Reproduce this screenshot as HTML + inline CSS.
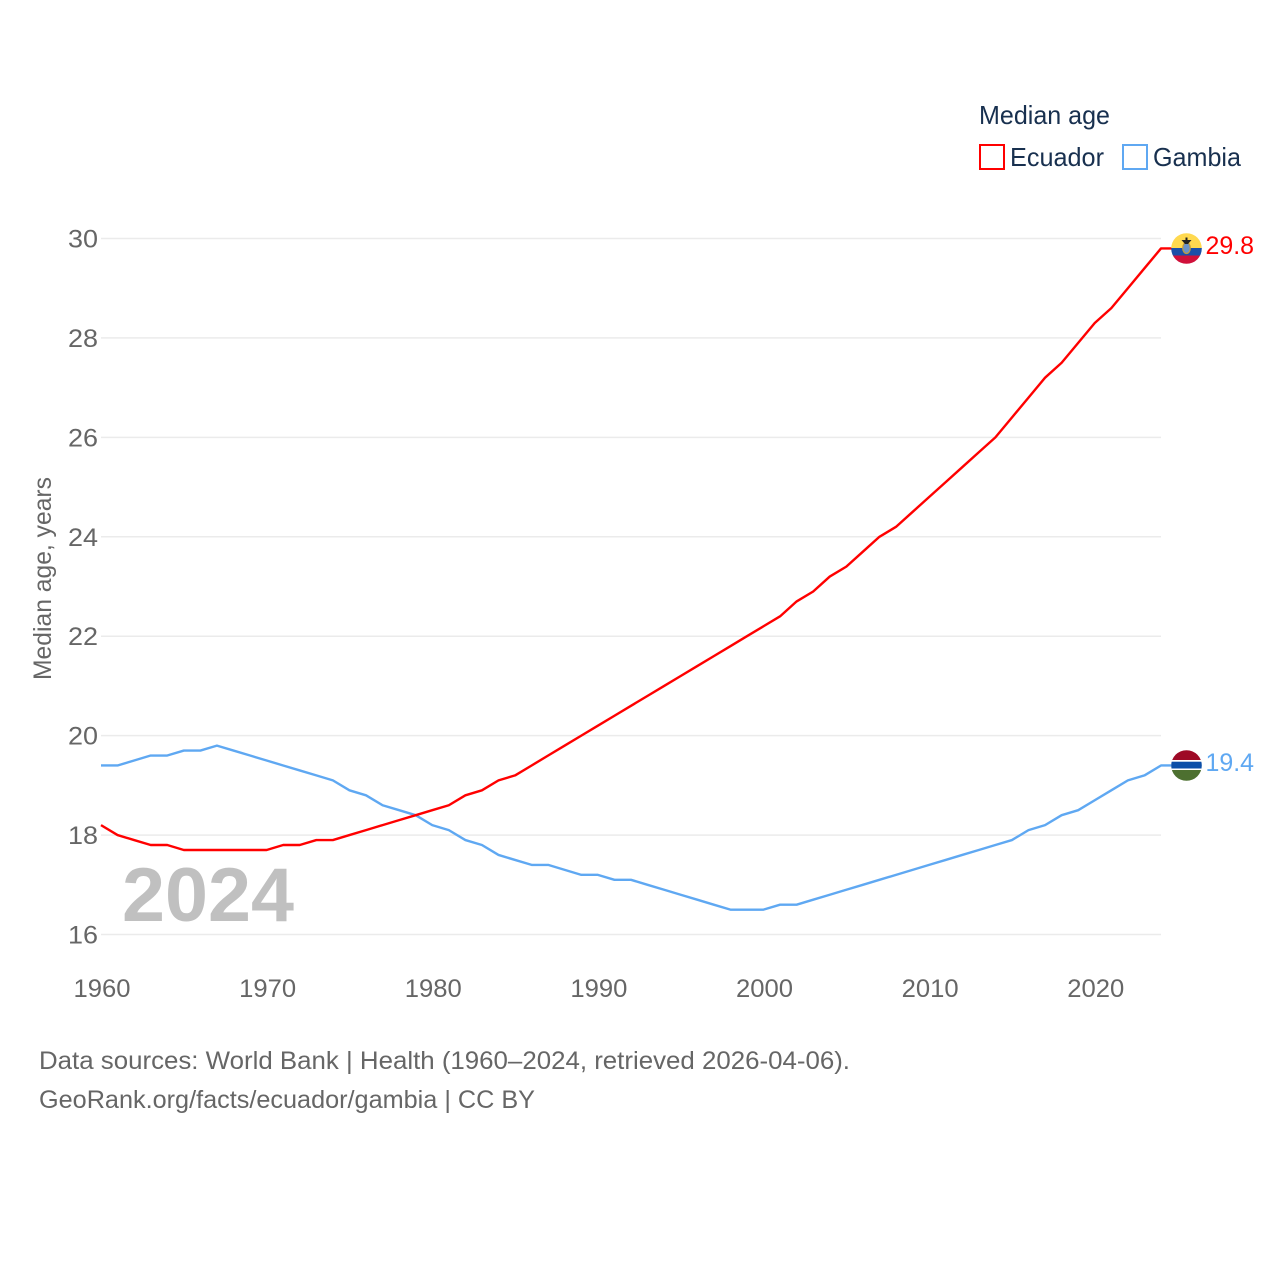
<!DOCTYPE html>
<html lang="en">
<head>
<meta charset="utf-8">
<title>Median age: Ecuador vs Gambia</title>
<style>
html,body{margin:0;padding:0;background:#fff;}
svg{display:block;font-family:"Liberation Sans",sans-serif;}
</style>
</head>
<body>
<svg id="chart" xmlns="http://www.w3.org/2000/svg" width="1280" height="1280" viewBox="0 0 1280 1280">
  <defs>
    <clipPath id="clip-ec"><circle cx="1186.500" cy="248.500" r="15.300"/></clipPath>
    <clipPath id="clip-gm"><circle cx="1186.500" cy="765.500" r="15.300"/></clipPath>
  </defs>
  <rect width="1280" height="1280" fill="#fff"/>

  <g id="grid"></g>
  <g id="yticks"></g>
  <g id="xticks"></g>

  <text transform="translate(51,680) rotate(-90)" font-size="25" fill="#666666" textLength="203" lengthAdjust="spacingAndGlyphs">Median age, years</text>

  <text x="122" y="921" font-size="76" font-weight="bold" fill="#c0c0c0" textLength="172" lengthAdjust="spacingAndGlyphs">2024</text>

  <g id="series"></g>

  <g clip-path="url(#clip-ec)">
    <rect x="1171" y="233" width="31" height="15" fill="#ffd94f"/>
    <rect x="1171" y="248" width="31" height="7.500" fill="#1a4fa8"/>
    <rect x="1171" y="255.500" width="31" height="9" fill="#d0103a"/>
    <ellipse cx="1186.500" cy="248" rx="3.800" ry="5.500" fill="#6a93c9" stroke="#c49a3a" stroke-width="1.200"/>
    <path d="M1181.500 240 L1191.500 240 L1188 244 L1185 244 Z" fill="#222"/>
    <rect x="1185.500" y="237.500" width="2" height="3" fill="#222"/>
  </g>
  <g clip-path="url(#clip-gm)">
    <rect x="1171" y="750" width="31" height="10" fill="#9e0a26"/>
    <rect x="1171" y="760" width="31" height="10.500" fill="#fff"/>
    <rect x="1171" y="761.700" width="31" height="6.800" fill="#0b4ea8"/>
    <rect x="1171" y="770" width="31" height="11" fill="#4d7030"/>
  </g>

  <text x="1205.500" y="254" font-size="25" fill="#ff0000" textLength="48.500" lengthAdjust="spacingAndGlyphs">29.8</text>
  <text x="1205.500" y="771" font-size="25" fill="#5fa8f2" textLength="48.500" lengthAdjust="spacingAndGlyphs">19.4</text>

  <g>
    <text x="979" y="124" font-size="26" fill="#18304f" textLength="131" lengthAdjust="spacingAndGlyphs">Median age</text>
    <g>
      <rect x="980" y="145" width="24" height="24" fill="#fff" stroke="#ff0000" stroke-width="2"/>
      <text x="1010" y="166" font-size="26" fill="#18304f" textLength="94" lengthAdjust="spacingAndGlyphs">Ecuador</text>
    </g>
    <g>
      <rect x="1123" y="145" width="24" height="24" fill="#fff" stroke="#5fa8f2" stroke-width="2"/>
      <text x="1153" y="166" font-size="26" fill="#18304f" textLength="88" lengthAdjust="spacingAndGlyphs">Gambia</text>
    </g>
  </g>

  <text x="39" y="1069" font-size="25" fill="#666666" textLength="811" lengthAdjust="spacingAndGlyphs">Data sources: World Bank | Health (1960–2024, retrieved 2026-04-06).</text>
  <text x="39" y="1108" font-size="25" fill="#666666" textLength="496" lengthAdjust="spacingAndGlyphs">GeoRank.org/facts/ecuador/gambia | CC BY</text>
</svg>

<script>
const startYear = 1960;
const xTickLabels = [1960, 1970, 1980, 1990, 2000, 2010, 2020];
const yTickLabels = [16, 18, 20, 22, 24, 26, 28, 30];
const ecuadorValues = [18.2,18.0,17.9,17.8,17.8,17.7,17.7,17.7,17.7,17.7,17.7,17.8,17.8,17.9,17.9,18.0,18.1,18.2,18.3,18.4,18.5,18.6,18.8,18.9,19.1,19.2,19.4,19.6,19.8,20.0,20.2,20.4,20.6,20.8,21.0,21.2,21.4,21.6,21.8,22.0,22.2,22.4,22.7,22.9,23.2,23.4,23.7,24.0,24.2,24.5,24.8,25.1,25.4,25.7,26.0,26.4,26.8,27.2,27.5,27.9,28.3,28.6,29.0,29.4,29.8];
const gambiaValues = [19.4,19.4,19.5,19.6,19.6,19.7,19.7,19.8,19.7,19.6,19.5,19.4,19.3,19.2,19.1,18.9,18.8,18.6,18.5,18.4,18.2,18.1,17.9,17.8,17.6,17.5,17.4,17.4,17.3,17.2,17.2,17.1,17.1,17.0,16.9,16.8,16.7,16.6,16.5,16.5,16.5,16.6,16.6,16.7,16.8,16.9,17.0,17.1,17.2,17.3,17.4,17.5,17.6,17.7,17.8,17.9,18.1,18.2,18.4,18.5,18.7,18.9,19.1,19.2,19.4];

const NS = 'http://www.w3.org/2000/svg';
const xOf = function (year) { return 101 + (year - 1960) * (1161 - 101) / (2024 - 1960); };
const yOf = function (v) { return 934.5 - (v - 16) * (934.5 - 238.5) / (30 - 16); };

const grid = document.getElementById('grid');
const yticks = document.getElementById('yticks');
const xticks = document.getElementById('xticks');
const series = document.getElementById('series');

yTickLabels.forEach(function (v) {
  const line = document.createElementNS(NS, 'line');
  
  
  line.setAttribute('x1', 101);
  line.setAttribute('x2', 1161);
  line.setAttribute('y1', yOf(v));
  line.setAttribute('y2', yOf(v));
  line.setAttribute('stroke', '#ebebeb');
  line.setAttribute('stroke-width', '1.5');
  grid.appendChild(line);

  const t = document.createElementNS(NS, 'text');
  
  
  t.setAttribute('x', 98);
  t.setAttribute('y', yOf(v) + 9);
  t.setAttribute('text-anchor', 'end');
  t.setAttribute('font-size', '25');
  t.setAttribute('fill', '#666666');
  t.setAttribute('textLength', '30');
  t.setAttribute('lengthAdjust', 'spacingAndGlyphs');
  t.textContent = v;
  yticks.appendChild(t);
});

xTickLabels.forEach(function (year) {
  const t = document.createElementNS(NS, 'text');
  
  
  t.setAttribute('x', xOf(year) + 1);
  t.setAttribute('y', 997);
  t.setAttribute('text-anchor', 'middle');
  t.setAttribute('font-size', '25');
  t.setAttribute('fill', '#666666');
  t.setAttribute('textLength', '57');
  t.setAttribute('lengthAdjust', 'spacingAndGlyphs');
  t.textContent = year;
  xticks.appendChild(t);
});

function seriesPoints(values) {
  const pts = values.map(function (v, i) {
    return xOf(startYear + i).toFixed(2) + ',' + yOf(v).toFixed(2);
  });
  const last = values[values.length - 1];
  pts.push('1172,' + yOf(last).toFixed(2));
  return pts.join(' ');
}

const gambiaLine = document.createElementNS(NS, 'polyline');


gambiaLine.setAttribute('points', seriesPoints(gambiaValues));
gambiaLine.setAttribute('fill', 'none');
gambiaLine.setAttribute('stroke', '#5fa8f2');
gambiaLine.setAttribute('stroke-width', '2.4');
gambiaLine.setAttribute('stroke-linejoin', 'round');
series.appendChild(gambiaLine);

const ecuadorLine = document.createElementNS(NS, 'polyline');


ecuadorLine.setAttribute('points', seriesPoints(ecuadorValues));
ecuadorLine.setAttribute('fill', 'none');
ecuadorLine.setAttribute('stroke', '#ff0000');
ecuadorLine.setAttribute('stroke-width', '2.4');
ecuadorLine.setAttribute('stroke-linejoin', 'round');
series.appendChild(ecuadorLine);
</script>
</body>
</html>
